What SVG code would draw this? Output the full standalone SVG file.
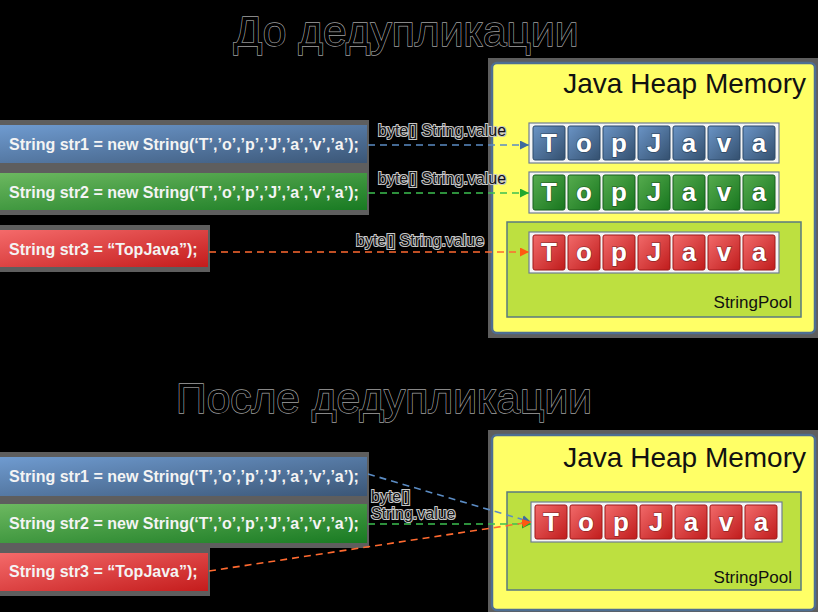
<svg xmlns="http://www.w3.org/2000/svg" width="818" height="612" viewBox="0 0 818 612">
<style>
.title{font-family:"Liberation Sans",Arial,sans-serif;font-size:42.5px;fill:#000;stroke:#a0a0a0;stroke-width:1.3px;paint-order:stroke;text-anchor:middle}
.code{font-family:"Liberation Sans",Arial,sans-serif;font-size:16px;font-weight:bold;fill:#f4f4f4}
.heap{font-family:"Liberation Sans",Arial,sans-serif;font-size:28px;fill:#111;text-anchor:end}
.pool{font-family:"Liberation Sans",Arial,sans-serif;font-size:17px;fill:#111;text-anchor:end}
.lbl{font-family:"Liberation Sans",Arial,sans-serif;font-size:16px;fill:#111;stroke:#c8c8c8;stroke-width:2px;paint-order:stroke}
.cell{font-family:"Liberation Sans",Arial,sans-serif;font-size:26px;font-weight:bold;fill:#fff;text-anchor:middle;stroke:#00000055;stroke-width:1.5px;paint-order:stroke}
.shadow{fill:#5e5e5e}
.heapbox{fill:#ffff66;stroke:#4e6e92;stroke-width:2.5}
.poolbox{fill:#bde040;stroke:#5a7a80;stroke-width:1.5}
.frame{fill:#f4f4f4;stroke:#6e7e90;stroke-width:1.2}
.c-blue{fill:url(#gcb);stroke:#2d4a6a;stroke-width:1}
.c-green{fill:url(#gcg);stroke:#17601c;stroke-width:1}
.c-red{fill:url(#gcr);stroke:#a01818;stroke-width:1}
.conn{fill:none;stroke-width:1.6;stroke-dasharray:7 5}
</style>
<defs>
<linearGradient id="gb" x1="0" y1="0" x2="1" y2="1"><stop offset="0" stop-color="#6f9bd0"/><stop offset="1" stop-color="#3b5676"/></linearGradient>
<linearGradient id="gg" x1="0" y1="0" x2="1" y2="1"><stop offset="0" stop-color="#6cb860"/><stop offset="1" stop-color="#187a22"/></linearGradient>
<linearGradient id="gr" x1="0" y1="0" x2="1" y2="1"><stop offset="0" stop-color="#f46a6a"/><stop offset="1" stop-color="#c41c1c"/></linearGradient>
<linearGradient id="gcb" x1="0" y1="0" x2="1" y2="1"><stop offset="0" stop-color="#6a94c6"/><stop offset="1" stop-color="#34506f"/></linearGradient>
<linearGradient id="gcg" x1="0" y1="0" x2="1" y2="1"><stop offset="0" stop-color="#56ac4e"/><stop offset="1" stop-color="#18761f"/></linearGradient>
<linearGradient id="gcr" x1="0" y1="0" x2="1" y2="1"><stop offset="0" stop-color="#f26a6a"/><stop offset="1" stop-color="#c01c1c"/></linearGradient>
<marker id="ab" viewBox="0 0 10 10" refX="10" refY="5" markerWidth="9" markerHeight="9" markerUnits="userSpaceOnUse" orient="auto"><path d="M0,0 L10,5 L0,10 z" fill="#3e6a9e"/></marker>
<marker id="ag" viewBox="0 0 10 10" refX="10" refY="5" markerWidth="9" markerHeight="9" markerUnits="userSpaceOnUse" orient="auto"><path d="M0,0 L10,5 L0,10 z" fill="#22a82e"/></marker>
<marker id="ar" viewBox="0 0 10 10" refX="10" refY="5" markerWidth="9" markerHeight="9" markerUnits="userSpaceOnUse" orient="auto"><path d="M0,0 L10,5 L0,10 z" fill="#ff5a10"/></marker>
<g id="letters">
<text class="cell" x="16" y="26">T</text><text class="cell" x="51" y="26">o</text><text class="cell" x="86" y="26">p</text><text class="cell" x="121" y="26">J</text><text class="cell" x="156" y="26">a</text><text class="cell" x="191" y="26">v</text><text class="cell" x="226" y="26">a</text>
</g>
</defs>
<rect width="818" height="612" fill="#000"/>

<text class="title" x="406" y="46">До дедупликации</text>
<text class="title" x="384" y="413">После дедупликации</text>

<!-- Section 1 -->
<g id="heap1">
<rect class="shadow" x="488" y="58" width="330" height="280"/>
<rect class="heapbox" x="492" y="63" width="323" height="270" rx="5"/>
<text class="heap" x="806" y="93">Java Heap Memory</text>
</g>
<g id="arr1">
<rect class="frame" x="529" y="123" width="250" height="40"/>
<rect class="c-blue" x="533" y="126" width="32" height="34" rx="2"/><rect class="c-blue" x="568" y="126" width="32" height="34" rx="2"/><rect class="c-blue" x="603" y="126" width="32" height="34" rx="2"/><rect class="c-blue" x="638" y="126" width="32" height="34" rx="2"/><rect class="c-blue" x="673" y="126" width="32" height="34" rx="2"/><rect class="c-blue" x="708" y="126" width="32" height="34" rx="2"/><rect class="c-blue" x="743" y="126" width="32" height="34" rx="2"/>
<use href="#letters" x="533" y="126"/>
</g>
<g id="arr2">
<rect class="frame" x="529" y="172" width="250" height="41"/>
<rect class="c-green" x="533" y="175" width="32" height="35" rx="2"/><rect class="c-green" x="568" y="175" width="32" height="35" rx="2"/><rect class="c-green" x="603" y="175" width="32" height="35" rx="2"/><rect class="c-green" x="638" y="175" width="32" height="35" rx="2"/><rect class="c-green" x="673" y="175" width="32" height="35" rx="2"/><rect class="c-green" x="708" y="175" width="32" height="35" rx="2"/><rect class="c-green" x="743" y="175" width="32" height="35" rx="2"/>
<use href="#letters" x="533" y="175"/>
</g>
<g id="pool1">
<rect class="poolbox" x="507" y="222" width="294" height="95"/>
<text class="pool" x="792" y="308">StringPool</text>
</g>
<g id="arr3">
<rect class="frame" x="529" y="232" width="250" height="41"/>
<rect class="c-red" x="533" y="235" width="32" height="35" rx="2"/><rect class="c-red" x="568" y="235" width="32" height="35" rx="2"/><rect class="c-red" x="603" y="235" width="32" height="35" rx="2"/><rect class="c-red" x="638" y="235" width="32" height="35" rx="2"/><rect class="c-red" x="673" y="235" width="32" height="35" rx="2"/><rect class="c-red" x="708" y="235" width="32" height="35" rx="2"/><rect class="c-red" x="743" y="235" width="32" height="35" rx="2"/>
<use href="#letters" x="533" y="235"/>
</g>
<g id="str1a">
<rect class="shadow" x="0" y="120" width="369" height="48"/>
<rect x="0" y="125" width="367" height="38" fill="url(#gb)"/>
<text class="code" x="9" y="150">String str1 = new String(‘T’,’o’,’p’,’J’,’a’,’v’,’a’);</text>
</g>
<g id="str2a">
<rect class="shadow" x="0" y="168" width="369" height="47"/>
<rect x="0" y="173" width="367" height="37" fill="url(#gg)"/>
<text class="code" x="9" y="198">String str2 = new String(‘T’,’o’,’p’,’J’,’a’,’v’,’a’);</text>
</g>
<g id="str3a">
<rect class="shadow" x="0" y="225" width="210" height="47"/>
<rect x="0" y="230" width="208" height="37" fill="url(#gr)"/>
<text class="code" x="9" y="255">String str3 = “TopJava”);</text>
</g>

<!-- Section 2 -->
<g id="heap2">
<rect class="shadow" x="488" y="430" width="330" height="182"/>
<rect class="heapbox" x="492" y="435" width="323" height="175" rx="5"/>
<text class="heap" x="806" y="467">Java Heap Memory</text>
</g>
<g id="pool2">
<rect class="poolbox" x="507" y="492" width="294" height="98"/>
<text class="pool" x="792" y="583">StringPool</text>
</g>
<g id="arr4">
<rect class="frame" x="531" y="502" width="251" height="40"/>
<rect class="c-red" x="535" y="505" width="32" height="34" rx="2"/><rect class="c-red" x="570" y="505" width="32" height="34" rx="2"/><rect class="c-red" x="605" y="505" width="32" height="34" rx="2"/><rect class="c-red" x="640" y="505" width="32" height="34" rx="2"/><rect class="c-red" x="675" y="505" width="32" height="34" rx="2"/><rect class="c-red" x="710" y="505" width="32" height="34" rx="2"/><rect class="c-red" x="745" y="505" width="32" height="34" rx="2"/>
<use href="#letters" x="535" y="505"/>
</g>
<g id="str1b">
<rect class="shadow" x="0" y="452" width="369" height="49"/>
<rect x="0" y="457" width="367" height="39" fill="url(#gb)"/>
<text class="code" x="9" y="482">String str1 = new String(‘T’,’o’,’p’,’J’,’a’,’v’,’a’);</text>
</g>
<g id="str2b">
<rect class="shadow" x="0" y="499" width="369" height="49"/>
<rect x="0" y="504" width="367" height="39" fill="url(#gg)"/>
<text class="code" x="9" y="529">String str2 = new String(‘T’,’o’,’p’,’J’,’a’,’v’,’a’);</text>
</g>
<g id="str3b">
<rect class="shadow" x="0" y="548" width="210" height="48"/>
<rect x="0" y="553" width="208" height="38" fill="url(#gr)"/>
<text class="code" x="9" y="577">String str3 = “TopJava”);</text>
</g>

<g id="connectors">
<line class="conn" x1="368" y1="145" x2="529" y2="145" stroke="#5b8cc4" marker-end="url(#ab)"/>
<line class="conn" x1="368" y1="193" x2="529" y2="193" stroke="#3cc050" marker-end="url(#ag)"/>
<line class="conn" x1="209" y1="252" x2="529" y2="252" stroke="#ff6a30" marker-end="url(#ar)"/>
<line class="conn" x1="368" y1="474" x2="531" y2="522" stroke="#5b8cc4" marker-end="url(#ab)"/>
<line class="conn" x1="368" y1="524" x2="531" y2="524" stroke="#3cc050" marker-end="url(#ag)"/>
<line class="conn" x1="209" y1="571" x2="531" y2="522" stroke="#ff6a30" marker-end="url(#ar)"/>
<text class="lbl" x="378" y="136">byte[] String.value</text>
<text class="lbl" x="378" y="184">byte[] String.value</text>
<text class="lbl" x="356" y="246">byte[] String.value</text>
<text class="lbl" x="371" y="502">byte[]</text>
<text class="lbl" x="371" y="519">String.value</text>
</g>
</svg>
